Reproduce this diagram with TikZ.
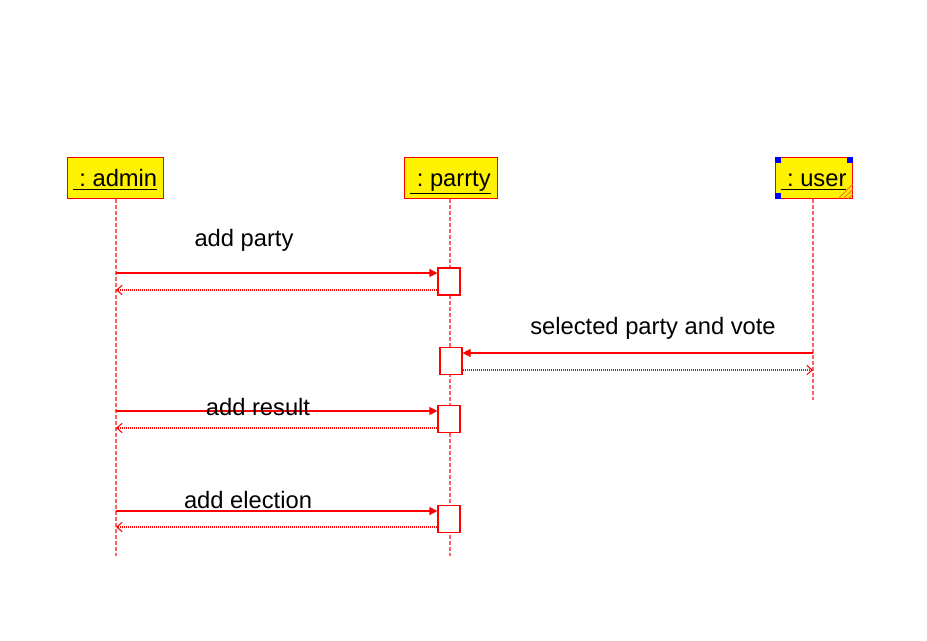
\documentclass[tikz,border=0pt]{standalone}
\usepackage{fontspec}
\setmainfont{Liberation Sans}
\usetikzlibrary{arrows.meta}
\definecolor{lifered}{RGB}{255,96,96}
\definecolor{hatch}{RGB}{255,110,40}

\begin{document}
\begin{tikzpicture}[x=0.75pt, y=-0.75pt,
	obj/.style={draw=red, fill=yellow, line width=0.75pt, minimum height=30.75pt,
		inner sep=0pt, text height=15pt, text depth=1pt, font=\fontsize{17.8}{20}\selectfont},
	act/.style={draw=red, fill=white, line width=0.85pt, minimum width=16.5pt,
		minimum height=20.25pt, inner sep=0pt},
	life/.style={lifered, line width=0.85pt, dash pattern=on 3pt off 1.5pt},
	msg/.style={red, line width=0.8pt, -{Triangle[length=6pt, width=6pt]}},
	reply/.style={red, line width=0.8pt, dash pattern=on 0.75pt off 0.75pt,
		-{Straight Barb[length=4pt, width=7pt]}},
	lbl/.style={font=\fontsize{17.8}{20}\selectfont}]
	\useasboundingbox (0,0) rectangle (927,640);

	% objects
	\node[obj, minimum width=72pt] (admin) at (115,177.5) {\underline{~:~admin}};
	\node[obj, minimum width=69.75pt] (party) at (450.5,177.5) {\underline{~:~parrty}};
	\node[obj, minimum width=57.75pt] (user) at (813.5,177.5) {\underline{~:~user}};
	\foreach \d in {4,9,14}
		\draw[hatch, line width=0.75pt] (user.south east) ++(-\d,0) -- ++(\d,-\d);
	\fill[blue] (user.north west) rectangle ++(6,6);
	\fill[blue] (user.north east) rectangle ++(-6,6);
	\fill[blue] (user.south west) rectangle ++(6,-6);

	% lifelines
	\coordinate (adminEnd) at (116,556);
	\coordinate (partyEnd) at (450,556);
	\coordinate (userEnd) at (813,400);
	\draw[life] (admin.south -| adminEnd) -- (adminEnd);
	\draw[life] (party.south -| partyEnd) -- (partyEnd);
	\draw[life] (user.south -| userEnd) -- (userEnd);

	% activations
	\node[act] (act1) at (449,281.5) {};
	\node[act] (act2) at (451,361) {};
	\node[act] (act3) at (449,419) {};
	\node[act] (act4) at (449,519) {};

	% messages
	\coordinate (m1) at (116,273);
	\coordinate (r1) at (116,290);
	\draw[msg] (m1) -- (m1 -| act1.west);
	\draw[reply] (r1 -| act1.west) -- (r1);
	\node[lbl] (l1) at (244,240) {add party};

	\coordinate (m2) at (813,353);
	\coordinate (r2) at (813,370);
	\draw[msg] (m2) -- (m2 -| act2.east);
	\draw[reply] (r2 -| act2.east) -- (r2);
	\node[lbl] (l2) at (653,328) {selected party and vote};

	\coordinate (m3) at (116,411);
	\coordinate (r3) at (116,428);
	\draw[msg] (m3) -- (m3 -| act3.west);
	\draw[reply] (r3 -| act3.west) -- (r3);
	\node[lbl] (l3) at (258,407) {add result};

	\coordinate (m4) at (116,511);
	\coordinate (r4) at (116,527);
	\draw[msg] (m4) -- (m4 -| act4.west);
	\draw[reply] (r4 -| act4.west) -- (r4);
	\node[lbl] (l4) at (248,500) {add election};
\end{tikzpicture}
\end{document}
